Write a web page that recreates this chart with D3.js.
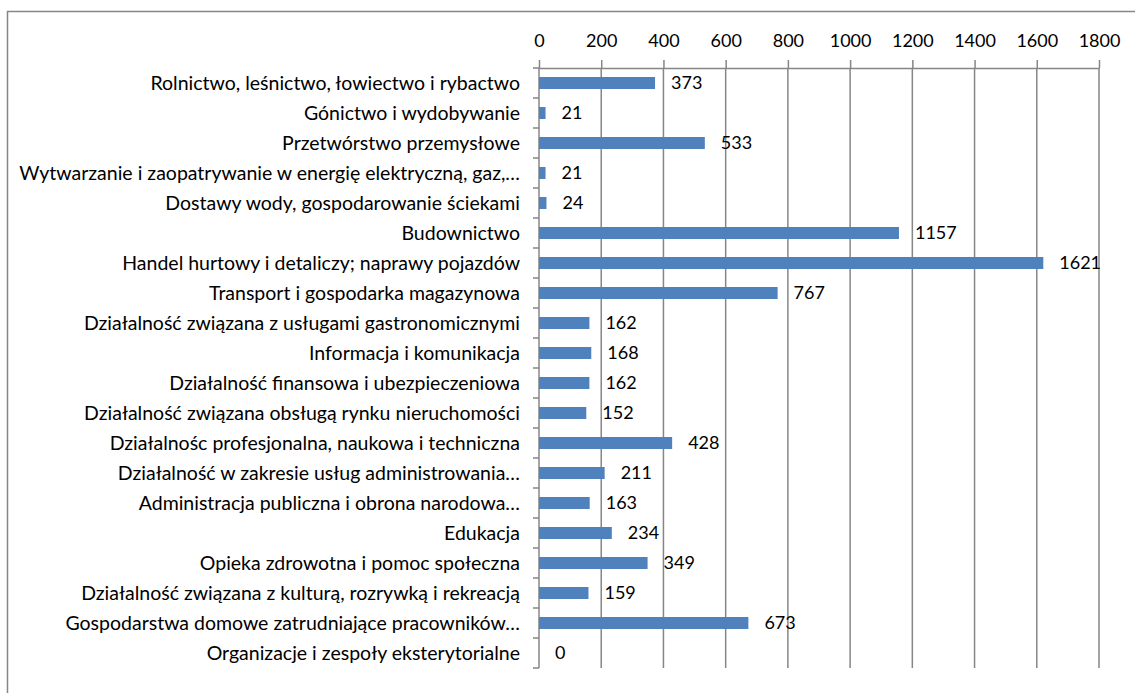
<!DOCTYPE html>
<html>
<head>
<meta charset="utf-8">
<script src="https://cdn.jsdelivr.net/npm/d3@7"></script>
<style>
  body { margin: 0; background: #fff; }
  svg { display: block; font-family: Lato, "Open Sans", sans-serif; }
</style>
</head>
<body>
<div id="chart"></div>
<script>
var categories = [
  "Rolnictwo, leśnictwo, łowiectwo i rybactwo",
  "Gónictwo i wydobywanie",
  "Przetwórstwo przemysłowe",
  "Wytwarzanie i zaopatrywanie w energię elektryczną, gaz,…",
  "Dostawy wody, gospodarowanie ściekami",
  "Budownictwo",
  "Handel hurtowy i detaliczy; naprawy pojazdów",
  "Transport i gospodarka magazynowa",
  "Działalność związana z usługami gastronomicznymi",
  "Informacja i komunikacja",
  "Działalność finansowa i ubezpieczeniowa",
  "Działalność związana obsługą rynku nieruchomości",
  "Działalnośc profesjonalna, naukowa i techniczna",
  "Działalność w zakresie usług administrowania…",
  "Administracja publiczna i obrona narodowa…",
  "Edukacja",
  "Opieka zdrowotna i pomoc społeczna",
  "Działalność związana z kulturą, rozrywką i rekreacją",
  "Gospodarstwa domowe zatrudniające pracowników…",
  "Organizacje i zespoły eksterytorialne"
]
var values = [373, 21, 533, 21, 24, 1157, 1621, 767, 162, 168, 162, 152, 428, 211, 163, 234, 349, 159, 673, 0]
var tickValues = [0, 200, 400, 600, 800, 1000, 1200, 1400, 1600, 1800]

var width = 1135, height = 693
// plot area (named so they don't clash with window.top)
var plotLeft = 539, plotRight = 1099, plotTop = 68, plotBottom = 668

var svg = d3.select("#chart").append("svg")
    .attr("width", width)
    .attr("height", height)

// outer frame of the chart area
svg.append("rect")
    .attr("x", 7.5).attr("y", 11.5)
    .attr("width", width + 20).attr("height", height + 20)
    .attr("fill", "none")
    .attr("stroke", "#868686")
    .attr("stroke-width", 1.5)

var x = d3.scaleLinear().domain([0, 1800]).range([plotLeft, plotRight])

var y = d3.scaleBand()
    .domain(categories)
    .range([plotTop, plotBottom])
    .paddingInner(0.6)
    .paddingOuter(0.3)

// gridlines
svg.append("g")
    .selectAll("line")
    .data(tickValues.slice(1))
    .join("line")
      .attr("x1", d => x(d)).attr("x2", d => x(d))
      .attr("y1", plotTop).attr("y2", plotBottom)
      .attr("stroke", "#868686")
      .attr("stroke-width", 1.5)

// top axis
var xAxis = svg.append("g")
    .attr("transform", "translate(0," + plotTop + ")")
    .call(d3.axisTop(x)
      .tickValues(tickValues)
      .tickFormat(d3.format("d"))
      .tickSize(8)
      .tickSizeOuter(0)
      .tickPadding(13))

xAxis.select(".domain").attr("stroke", "#868686").attr("stroke-width", 1.5)
xAxis.selectAll(".tick line").attr("stroke", "#868686").attr("stroke-width", 1.5)
xAxis.selectAll(".tick text")
    .attr("fill", "#000")
    .style("font-size", "18px")
    .style("font-family", "Lato, sans-serif")

// left axis line with ticks between categories
var step = y.step()
var yTicks = d3.range(categories.length + 1).map(i => plotTop + i * step)

svg.append("line")
    .attr("x1", plotLeft).attr("x2", plotLeft)
    .attr("y1", plotTop).attr("y2", plotBottom)
    .attr("stroke", "#868686").attr("stroke-width", 1.5)

svg.append("g")
    .selectAll("line")
    .data(yTicks)
    .join("line")
      .attr("x1", plotLeft - 6).attr("x2", plotLeft)
      .attr("y1", d => d).attr("y2", d => d)
      .attr("stroke", "#868686")
      .attr("stroke-width", 1.5)

// bars
svg.append("g")
    .selectAll("rect")
    .data(values)
    .join("rect")
      .attr("x", x(0))
      .attr("y", (d, i) => y(categories[i]))
      .attr("width", d => x(d) - x(0))
      .attr("height", y.bandwidth())
      .attr("fill", "#4F81BD")

// value labels
svg.append("g")
    .style("font-size", "18px")
    .selectAll("text")
    .data(values)
    .join("text")
      .attr("x", d => x(d) + 16)
      .attr("y", (d, i) => y(categories[i]) + y.bandwidth() / 2)
      .attr("dy", "0.36em")
      .attr("fill", "#000")
      .text(d => d)

// category labels
svg.append("g")
    .style("font-size", "19.5px")
    .selectAll("text")
    .data(categories)
    .join("text")
      .attr("x", plotLeft - 19)
      .attr("y", d => y(d) + y.bandwidth() / 2)
      .attr("dy", "0.35em")
      .attr("text-anchor", "end")
      .attr("fill", "#000")
      .text(d => d)
</script>
</body>
</html>
